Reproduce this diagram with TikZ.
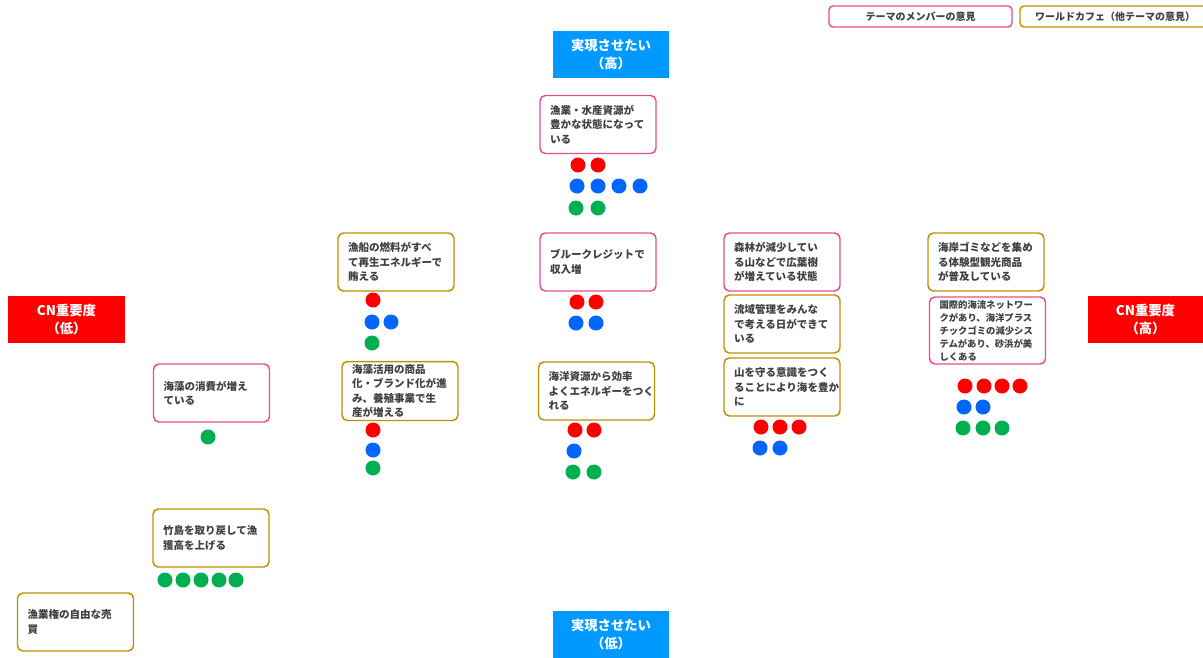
\documentclass[tikz,border=0pt]{standalone}
\usepackage{fontspec}
\setmainfont{Noto Sans CJK JP}
\definecolor{pinkline}{RGB}{231,76,150}
\definecolor{goldline}{RGB}{191,144,0}
\definecolor{axisblue}{RGB}{0,153,255}
\definecolor{axisred}{RGB}{255,0,0}
\definecolor{dotred}{RGB}{255,0,0}
\definecolor{dotblue}{RGB}{0,102,255}
\definecolor{dotgreen}{RGB}{0,176,80}
\definecolor{notetext}{RGB}{64,64,64}
\tikzset{every picture/.style={line width=0.75pt}}
\tikzset{
	note/.style={draw, line width=1.1pt, rounded corners=4pt, fill=white, text=notetext,
		minimum width=87pt, minimum height=43.5pt, text width=72pt, inner xsep=7.5pt, inner ysep=2pt,
		align=left, font=\fontsize{7.9}{10.9}\selectfont\bfseries},
	pinknote/.style={note, draw=pinkline},
	goldnote/.style={note, draw=goldline},
	axislabel/.style={minimum width=87pt, minimum height=35.25pt, inner sep=0pt, text=white,
		align=center, font=\fontsize{10}{13.5}\selectfont\bfseries},
	legend/.style={draw, line width=1.1pt, rounded corners=3pt, fill=white, text=notetext,
		minimum height=15.75pt, inner sep=0pt, font=\fontsize{7.5}{9}\selectfont\bfseries},
	rdot/.style={fill=dotred},
	bdot/.style={fill=dotblue},
	gdot/.style={fill=dotgreen}}

\begin{document}
\begin{tikzpicture}[x=0.75pt,y=0.75pt,yscale=-1,xscale=1]
	\useasboundingbox (0,0) rectangle (1203,657);
	\clip (0,0) rectangle (1203,657);

	% Legend
	\draw (920.5,16.5) node [legend, draw=pinkline, minimum width=137.25pt] (lgmember) {テーマのメンバーの意見};
	\draw (1115,16.5) node [legend, draw=goldline, minimum width=142.5pt] (lgcafe) {ワールドカフェ（他テーマの意見）};

	% Axis labels
	\draw (611,54.5) node [axislabel, fill=axisblue] (high) {実現させたい\\（高）};
	\draw (611,634.5) node [axislabel, fill=axisblue] (low) {実現させたい\\（低）};
	\draw (66.5,319.5) node [axislabel, fill=axisred, minimum width=87.75pt] (cnlow) {CN重要度\\（低）};
	\draw (1145.5,319.5) node [axislabel, fill=axisred, minimum width=86.25pt] (cnhigh) {CN重要度\\（高）};

	% Text Node
	\draw (598,124.5) node [pinknote] (fish) {漁業・水産資源が\\豊かな状態になって\\いる};
	% Text Node
	\draw (396,262) node [goldnote] (fuel) {漁船の燃料がすべ\\て再生エネルギーで\\賄える};
	% Text Node
	\draw (598,262) node [pinknote] (blue) {ブルークレジットで\\収入増};
	% Text Node
	\draw (782,262) node [pinknote] (forest) {森林が減少してい\\る山などで広葉樹\\が増えている状態};
	% Text Node
	\draw (782,324) node [goldnote] (basin) {流域管理をみんな\\で考える日ができて\\いる};
	% Text Node
	\draw (782,387) node [goldnote] (mount) {山を守る意識をつく\\ることにより海を豊か\\に};
	% Text Node
	\draw (986,262) node [goldnote] (trash) {海岸ゴミなどを集め\\る体験型観光商品\\が普及している};
	% Text Node
	\draw (987.5,330.5) node [pinknote, minimum height=50.25pt, font=\fontsize{7}{9.75}\selectfont\bfseries] (current) {国際的海流ネットワー\\クがあり、海洋プラス\\チックゴミの減少シス\\テムがあり、砂浜が美\\しくある};
	% Text Node
	\draw (211.5,393) node [pinknote] (seaweed) {海藻の消費が増え\\ている};
	% Text Node
	\draw (400,391) node [goldnote] (brand) {海藻活用の商品\\化・ブランド化が進\\み、養殖事業で生\\産が増える};
	% Text Node
	\draw (596.5,391) node [goldnote] (energy) {海洋資源から効率\\よくエネルギーをつく\\れる};
	% Text Node
	\draw (211,538) node [goldnote] (island) {竹島を取り戻して漁\\獲高を上げる};
	% Text Node
	\draw (75.5,622) node [goldnote] (rights) {漁業権の自由な売\\買};

	% Dots
	\fill [rdot] (578,165) circle (7.5) (598,165) circle (7.5);
	\fill [bdot] (577,186) circle (7.5) (598,186) circle (7.5) (619,186) circle (7.5) (640,186) circle (7.5);
	\fill [gdot] (576,208) circle (7.5) (598,208) circle (7.5);

	\fill [rdot] (373,300) circle (7.5);
	\fill [bdot] (372,322) circle (7.5) (391,322) circle (7.5);
	\fill [gdot] (372,343) circle (7.5);

	\fill [rdot] (577,302) circle (7.5) (596,302) circle (7.5);
	\fill [bdot] (576,323) circle (7.5) (596,323) circle (7.5);

	\fill [rdot] (761,427) circle (7.5) (780,427) circle (7.5) (799,427) circle (7.5);
	\fill [bdot] (760,448) circle (7.5) (780,448) circle (7.5);

	\fill [rdot] (965,386) circle (7.5) (984,386) circle (7.5) (1002,386) circle (7.5) (1020,386) circle (7.5);
	\fill [bdot] (964,407) circle (7.5) (983,407) circle (7.5);
	\fill [gdot] (963,428) circle (7.5) (983,428) circle (7.5) (1002,428) circle (7.5);

	\fill [gdot] (208,437) circle (7.5);

	\fill [rdot] (373,430) circle (7.5);
	\fill [bdot] (373,450) circle (7.5);
	\fill [gdot] (373,468) circle (7.5);

	\fill [rdot] (575,430) circle (7.5) (594,430) circle (7.5);
	\fill [bdot] (574,451) circle (7.5);
	\fill [gdot] (573,472) circle (7.5) (594,472) circle (7.5);

	\fill [gdot] (165,580) circle (7.5) (183,580) circle (7.5) (201,580) circle (7.5) (219,580) circle (7.5) (236,580) circle (7.5);

\end{tikzpicture}
\end{document}
